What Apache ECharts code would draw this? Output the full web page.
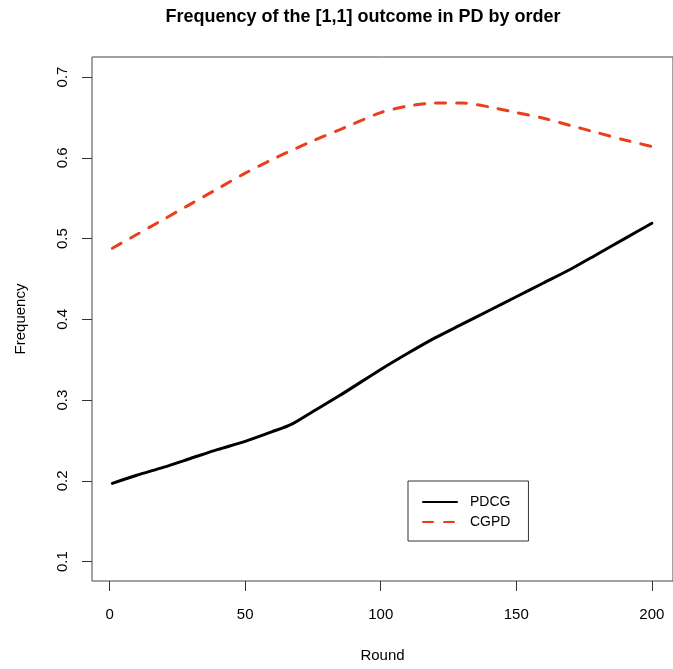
<!DOCTYPE html>
<html>
<head>
<meta charset="utf-8">
<script src="https://cdn.jsdelivr.net/npm/echarts@6/dist/echarts.min.js"></script>
<style>html,body{margin:0;padding:0;background:#fff}#c{width:673px;height:669px}</style>
</head>
<body>
<div id="c"></div>
<script>
const titleText = 'Frequency of the [1,1] outcome in PD by order';
const xName = 'Round';
const yName = 'Frequency';
const seriesNames = ['PDCG', 'CGPD'];
const rounds = [1, 10, 20, 30, 40, 50, 60, 67, 75, 85, 100, 110, 120, 130, 140, 150, 160, 170, 180, 190, 200];
const pdcg =   [0.197, 0.207, 0.217, 0.228, 0.239, 0.249, 0.261, 0.270, 0.286, 0.306, 0.338, 0.358, 0.377, 0.394, 0.411, 0.428, 0.445, 0.462, 0.481, 0.500, 0.519];
const cgpd =   [0.488, 0.505, 0.524, 0.543, 0.562, 0.581, 0.598, 0.609, 0.621, 0.635, 0.656, 0.664, 0.668, 0.668, 0.663, 0.656, 0.649, 0.640, 0.631, 0.622, 0.614];
const xTicks = [0, 50, 100, 150, 200];
const yTicks = [0.1, 0.2, 0.3, 0.4, 0.5, 0.6, 0.7];

const font = 'Liberation Sans, Arial, Helvetica, sans-serif';
const chart = echarts.init(document.getElementById('c'), null, {renderer: 'canvas'});
chart.setOption({
  animation: false,
  backgroundColor: '#fff',
  title: {
    text: titleText, left: 358, top: 3, textAlign: 'center',
    textStyle: {fontFamily: font, fontSize: 18, fontWeight: 'bold', color: '#000'}
  },
  grid: {left: 92, top: 57, width: 583, height: 524, show: true, borderColor: '#444', borderWidth: 1, backgroundColor: 'transparent'},
  legend: {
    orient: 'vertical', left: 408, top: 481,
    borderColor: '#333', borderWidth: 1, borderRadius: 0,
    padding: [14, 18, 12, 14],
    itemWidth: 34, itemHeight: 14, itemGap: 6,
    itemStyle: {opacity: 0},
    textStyle: {fontFamily: font, fontSize: 14, color: '#000', padding: [0, 0, 0, 8], lineHeight: 14},
    data: seriesNames
  },
  xAxis: {
    type: 'value', min: -6.5, max: 207.8,
    name: xName, nameLocation: 'middle', nameGap: 67,
    nameTextStyle: {fontFamily: font, fontSize: 15, color: '#000'},
    axisLine: {show: false, onZero: false},
    splitLine: {show: false},
    axisTick: {show: true, inside: false, length: 10, customValues: xTicks, lineStyle: {color: '#333'}},
    axisLabel: {customValues: xTicks, margin: 26, fontFamily: font, fontSize: 15, color: '#000'}
  },
  yAxis: {
    type: 'value', min: 0.0761, max: 0.7248,
    name: yName, nameLocation: 'middle', nameGap: 64, nameRotate: 90,
    nameTextStyle: {fontFamily: font, fontSize: 15, color: '#000'},
    axisLine: {show: false, onZero: false},
    splitLine: {show: false},
    axisTick: {show: true, inside: false, length: 10, customValues: yTicks, lineStyle: {color: '#333'}},
    axisLabel: {customValues: yTicks, rotate: 90, margin: 22, fontFamily: font, fontSize: 15, color: '#000',
      formatter: v => v.toFixed(1)}
  },
  series: [
    {
      name: seriesNames[0], type: 'line', symbol: 'none', smooth: 0.25,
      data: rounds.map((r, i) => [r, pdcg[i]]),
      lineStyle: {color: '#000', width: 3, cap: 'round'},
      itemStyle: {color: '#000'}
    },
    {
      name: seriesNames[1], type: 'line', symbol: 'none', smooth: 0.25,
      data: rounds.map((r, i) => [r, cgpd[i]]),
      lineStyle: {color: '#e8401c', width: 3, type: [10, 11], cap: 'round'},
      itemStyle: {color: '#e8401c'}
    }
  ]
});
</script>
</body>
</html>
